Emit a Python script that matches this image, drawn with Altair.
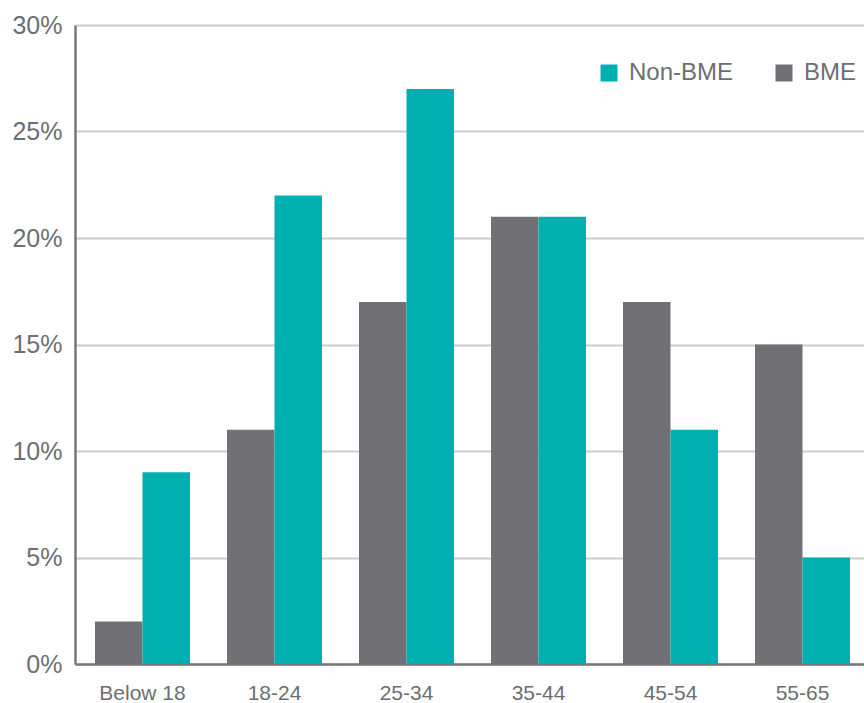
import altair as alt
import pandas as pd

categories = ["Below 18", "18-24", "25-34", "35-44", "45-54", "55-65"]
bme = [2, 11, 17, 21, 17, 15]
non_bme = [9, 22, 27, 21, 11, 5]
series = ["Non-BME", "BME"]
colors = ["#00b0b0", "#717074"]

rows = []
for c, b, n in zip(categories, bme, non_bme):
    rows.append({"age": c, "group": "BME", "value": b / 100})
    rows.append({"age": c, "group": "Non-BME", "value": n / 100})
df = pd.DataFrame(rows)

font = "Liberation Sans"
text_color = "#6d6e71"

chart = alt.Chart(df).mark_bar().encode(
    x=alt.X("age:N", sort=categories, title=None,
            scale=alt.Scale(paddingInner=0.2803, paddingOuter=0.1288, align=0.588),
            axis=alt.Axis(labelAngle=0, labelFontSize=21, labelPadding=18,
                          ticks=False, domainColor="#77777a", domainWidth=2.5,
                          labelColor=text_color, labelFont=font)),
    xOffset=alt.XOffset("group:N", sort=["BME", "Non-BME"]),
    y=alt.Y("value:Q", title=None,
            scale=alt.Scale(domain=[0, 0.3]),
            axis=alt.Axis(format=".0%", values=[0, 0.05, 0.1, 0.15, 0.2, 0.25, 0.3],
                          labelFontSize=25, labelPadding=13, ticks=False,
                          domainColor="#77777a", domainWidth=2.5,
                          gridColor="#cccccc", gridWidth=2,
                          labelColor=text_color, labelFont=font)),
    color=alt.Color("group:N", scale=alt.Scale(domain=series, range=colors),
                    legend=alt.Legend(title=None, orient="none", direction="horizontal",
                                      legendX=522, legendY=36,
                                      symbolType="square", symbolSize=289,
                                      symbolStrokeWidth=0, symbolOpacity=1,
                                      labelFontSize=24, labelFont=font,
                                      labelColor=text_color, labelOffset=8,
                                      columnPadding=38)),
).properties(
    width=789, height=639,
    autosize=alt.AutoSizeParams(type="none"),
    padding={"left": 75, "top": 25, "right": 0, "bottom": 39},
).configure_view(stroke=None)

chart.save("out.html", embed_options={"renderer": "svg", "actions": False})
